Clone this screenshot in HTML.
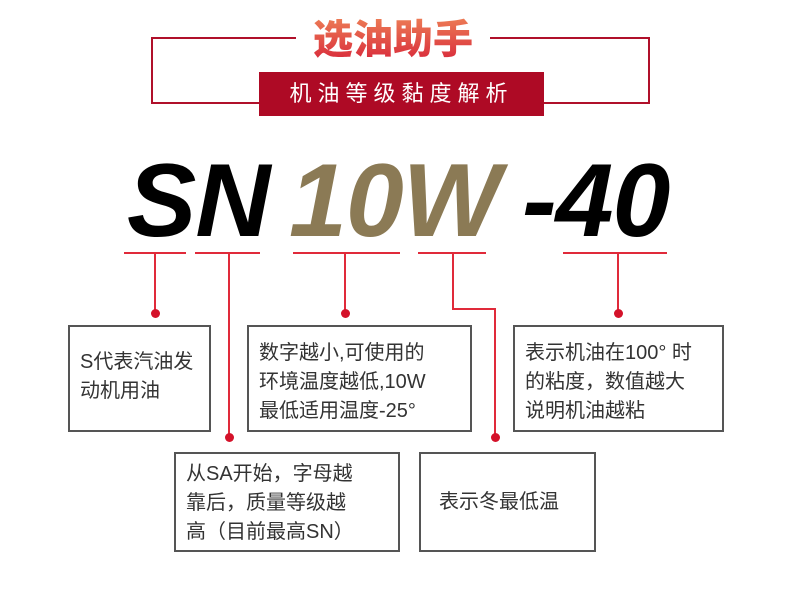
<!DOCTYPE html>
<html><head><meta charset="utf-8"><style>
body{margin:0;width:790px;height:590px;background:#fff;position:relative;overflow:hidden;font-family:"Liberation Sans","Noto Sans CJK SC",sans-serif}
.a{position:absolute}
.big{position:absolute;font:italic bold 104px/1 "Liberation Sans",sans-serif;top:149px;letter-spacing:-1px}
.box{position:absolute;border:2px solid #555;box-sizing:border-box;font-size:20px;line-height:29px;color:#333;padding:0 10px}
.ln{position:absolute;background:#e02a3a}
.dot{position:absolute;width:9px;height:9px;border-radius:50%;background:#d4122a}
</style></head><body>
<div class="a" style="left:151px;top:37px;width:499px;height:66px;border:2px solid #b0102a;border-bottom:none;box-sizing:border-box"></div>
<div class="a" style="left:151px;top:102px;width:110px;height:2px;background:#b0102a"></div>
<div class="a" style="left:540px;top:102px;width:110px;height:2px;background:#b0102a"></div>
<div class="a" style="left:296px;top:30px;width:194px;height:12px;background:#fff"></div>
<div class="a" style="left:296px;top:10px;width:194px;text-align:center;font:900 40px/52px 'Noto Sans CJK SC',sans-serif;background:linear-gradient(#f08a5a,#d8283a);-webkit-background-clip:text;color:transparent">选油助手</div>
<div class="a" style="left:259px;top:72px;width:285px;height:44px;background:#ae0a25;color:#fff;font-size:22px;line-height:44px;text-align:center;letter-spacing:6px">机油等级黏度解析</div>

<div class="big" style="left:127px;color:#000">SN</div>
<div class="big" style="left:289px;color:#8b7a55">10W</div>
<div class="big" style="left:522px;color:#000">-40</div>

<div class="ln" style="left:124px;top:252px;width:62px;height:2px"></div>
<div class="ln" style="left:195px;top:252px;width:65px;height:2px"></div>
<div class="ln" style="left:293px;top:252px;width:107px;height:2px"></div>
<div class="ln" style="left:418px;top:252px;width:68px;height:2px"></div>
<div class="ln" style="left:563px;top:252px;width:104px;height:2px"></div>
<div class="ln" style="left:154px;top:252px;width:2px;height:60px"></div>
<div class="ln" style="left:228px;top:252px;width:2px;height:185px"></div>
<div class="ln" style="left:344px;top:252px;width:2px;height:60px"></div>
<div class="ln" style="left:452px;top:252px;width:2px;height:57px"></div>
<div class="ln" style="left:452px;top:308px;width:44px;height:2px"></div>
<div class="ln" style="left:494px;top:308px;width:2px;height:130px"></div>
<div class="ln" style="left:617px;top:252px;width:2px;height:60px"></div>
<div class="dot" style="left:151px;top:309px"></div>
<div class="dot" style="left:225px;top:433px"></div>
<div class="dot" style="left:341px;top:309px"></div>
<div class="dot" style="left:491px;top:433px"></div>
<div class="dot" style="left:614px;top:309px"></div>

<div class="box" style="left:68px;top:325px;width:143px;height:107px;padding-top:21px">S代表汽油发<br>动机用油</div>
<div class="box" style="left:247px;top:325px;width:225px;height:107px;padding-top:12px">数字越小,可使用的<br>环境温度越低,10W<br>最低适用温度-25°</div>
<div class="box" style="left:513px;top:325px;width:211px;height:107px;padding-top:12px">表示机油在100° 时<br>的粘度，数值越大<br>说明机油越粘</div>
<div class="box" style="left:174px;top:452px;width:226px;height:100px;padding-top:6px">从SA开始，字母越<br>靠后，质量等级越<br>高（目前最高SN）</div>
<div class="box" style="left:419px;top:452px;width:177px;height:100px;padding-top:34px;padding-left:18px">表示冬最低温</div>
</body></html>
